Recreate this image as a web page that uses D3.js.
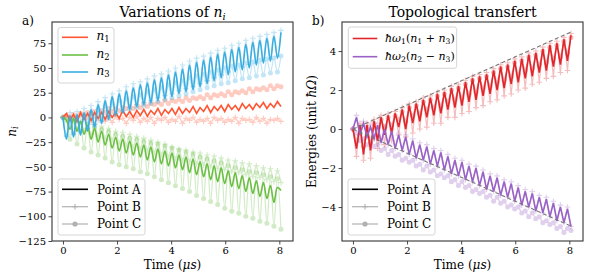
<!DOCTYPE html>
<html><head><meta charset="utf-8">
<script src="https://cdn.jsdelivr.net/npm/d3@7"></script>
<style>body{margin:0;background:#fff} text{font-family:"DejaVu Serif",serif;fill:#000}</style>
</head><body><svg id="c" width="589" height="278"></svg>
<script>
// ---------------- DATA ----------------
const time = [0,0.13,0.26,0.39,0.52,0.65,0.78,0.91,1.04,1.17,1.3,1.43,1.56,1.69,1.82,1.95,2.08,2.21,2.34,2.47,2.6,2.73,2.86,2.99,3.12,3.25,3.38,3.51,3.64,3.77,3.9,4.03,4.16,4.29,4.42,4.55,4.68,4.81,4.94,5.07,5.2,5.33,5.46,5.59,5.72,5.85,5.98,6.11,6.24,6.37,6.5,6.63,6.76,6.89,7.02,7.15,7.28,7.41,7.54,7.67,7.8,7.93,8.06];

// panel a) populations
const n1A = [0,4,-3,3,-4,5,-2,4,-3,5,-1,5,-2,6,0,5,-1,7,1,6,0,7,2,8,1,7,3,9,2,8,4,9,3,10,4,9,5,11,4,10,6,12,5,11,7,12,6,13,8,12,7,14,9,13,8,14,10,15,9,14,10,16,11];
const n1B = [0,2,-3,1,-4,2,-2,0,-5,1,-3,2,-4,0,-5,1,-2,-1,-6,0,-3,1,-5,-1,-4,0,-6,-1,-3,0,-5,-2,-4,1,-6,-1,-3,0,-5,-2,-4,-1,-6,0,-3,-1,-5,-2,-4,0,-6,-1,-3,-2,-5,0,-4,-1,-6,-2,-3,-1,-4];
const n1C = [0,2,-1,3,1,4,2,5,4,6,4,7,5,9,6,9,7,10,9,11,9,12,10,14,11,14,13,15,13,17,14,17,16,18,16,20,17,20,19,21,19,23,20,23,22,24,22,26,23,26,25,27,25,29,26,29,28,30,28,32,29,32,31];
const n2A = [0,-3,-12,-1,-14,-4,-17,-8,-22,-11,-25,-14,-28,-17,-31,-20,-34,-22,-36,-24,-38,-26,-40,-28,-43,-30,-45,-32,-47,-34,-49,-36,-51,-38,-53,-40,-56,-42,-58,-45,-60,-47,-63,-49,-65,-51,-67,-54,-70,-56,-72,-59,-75,-61,-77,-64,-80,-66,-82,-69,-86,-71,-74];
const n2B = [0,-2,-9,-2,-11,-4,-13,-6,-17,-7,-19,-9,-21,-11,-23,-14,-26,-15,-28,-17,-30,-19,-32,-21,-34,-23,-36,-25,-38,-27,-40,-30,-42,-32,-44,-33,-45,-35,-47,-36,-48,-38,-50,-39,-52,-41,-53,-43,-55,-44,-56,-46,-58,-47,-60,-49,-61,-51,-63,-52,-65,-54,-66];
const n2C = [0,-3,-22,-4,-27,-6,-31,-7,-35,-10,-38,-12,-41,-14,-45,-17,-48,-19,-50,-21,-52,-22,-55,-24,-57,-26,-60,-27,-63,-29,-66,-31,-69,-33,-72,-35,-75,-37,-79,-40,-82,-42,-85,-44,-88,-46,-92,-49,-95,-51,-97,-53,-100,-55,-102,-56,-105,-58,-107,-60,-110,-62,-113];
const n3A = [0,-22,2,-20,3,-18,5,-14,8,-10,13,-6,17,-2,21,2,24,5,27,8,30,11,33,13,35,15,38,17,40,19,43,21,46,24,49,26,53,28,56,31,58,34,61,37,64,40,66,43,69,46,71,48,74,50,76,53,78,55,80,57,82,60,86];
const n3B = [0,-19,5,-17,6,-14,9,-11,12,-7,16,-3,20,1,24,4,27,7,31,10,34,13,36,15,39,17,42,20,44,22,47,24,50,27,53,29,57,31,60,34,62,37,65,40,68,43,70,46,73,49,75,51,78,53,80,55,82,57,84,59,86,62,88];
const n3C = [0,-18,-2,-16,-1,-14,1,-11,4,-8,8,-4,11,-1,14,3,17,6,19,8,21,10,23,12,26,14,28,16,30,18,33,20,35,22,37,24,40,26,42,28,44,30,46,32,48,34,50,35,52,37,53,39,55,40,56,42,58,43,59,45,60,46,62];

// panel b) energies
const e1A = [0,-1.0,0.2,-1.3,0.2,-1.1,0.4,-0.6,0.6,-0.3,0.7,-0.2,0.8,0.1,1.0,0.0,1.2,0.3,1.3,0.4,1.5,0.6,1.6,0.7,1.8,0.8,1.9,1.0,2.1,1.1,2.2,1.2,2.4,1.4,2.6,1.5,2.7,1.7,2.8,1.8,3.0,2.0,3.2,2.1,3.3,2.3,3.5,2.4,3.6,2.6,3.8,2.7,3.9,2.9,4.1,3.0,4.3,3.2,4.4,3.3,4.6,3.5,4.8];
const e1B = [0,-1.4,0.3,-1.6,0.3,-1.5,0.5,-1.0,0.7,-0.8,0.8,-0.6,0.9,-0.3,1.1,-0.4,1.3,-0.2,1.4,0.0,1.6,0.1,1.7,0.3,1.9,0.3,2.0,0.6,2.2,0.6,2.3,0.8,2.5,0.9,2.7,1.1,2.8,1.2,2.9,1.4,3.1,1.5,3.3,1.7,3.4,1.8,3.6,2.0,3.7,2.1,3.9,2.3,4.0,2.4,4.2,2.6,4.4,2.7,4.5,2.9,4.7,3.0,4.9];
const e1C = [0,-0.6,0.1,-0.9,0.1,-0.7,0.3,-0.2,0.5,0.1,0.6,0.2,0.7,0.5,0.9,0.4,1.1,0.7,1.2,0.8,1.4,1.0,1.5,1.1,1.7,1.2,1.8,1.4,2.0,1.5,2.1,1.6,2.3,1.8,2.5,1.9,2.6,2.1,2.7,2.2,2.9,2.4,3.1,2.5,3.2,2.7,3.4,2.8,3.5,3.0,3.7,3.1,3.8,3.3,4.0,3.4,4.2,3.6,4.3,3.7,4.5,3.9,4.7];
const e2A = [0,0.6,-0.3,0.3,-0.4,0.1,-0.5,0.2,-0.7,0.0,-0.8,-0.1,-1.0,-0.3,-1.1,-0.4,-1.3,-0.6,-1.5,-0.8,-1.6,-0.9,-1.8,-1.1,-1.9,-1.2,-2.1,-1.4,-2.3,-1.6,-2.4,-1.7,-2.6,-1.9,-2.7,-2.0,-2.9,-2.2,-3.1,-2.4,-3.2,-2.5,-3.4,-2.7,-3.5,-2.8,-3.7,-3.0,-3.9,-3.2,-4.0,-3.3,-4.2,-3.5,-4.3,-3.6,-4.5,-3.8,-4.7,-4.0,-4.8,-4.1,-5.0];
const e2B = [0,0.7,-0.3,0.4,-0.4,0.2,-0.5,0.3,-0.7,0.1,-0.8,0.0,-1.0,-0.2,-1.1,-0.3,-1.3,-0.5,-1.5,-0.7,-1.6,-0.8,-1.8,-1.0,-1.9,-1.1,-2.1,-1.3,-2.3,-1.5,-2.4,-1.6,-2.6,-1.8,-2.7,-1.9,-2.9,-2.1,-3.1,-2.3,-3.2,-2.4,-3.4,-2.6,-3.5,-2.7,-3.7,-2.9,-3.9,-3.1,-4.0,-3.2,-4.2,-3.4,-4.3,-3.5,-4.5,-3.7,-4.7,-3.9,-4.8,-4.0,-5.0];
const e2C = [0,-0.2,-0.6,-0.5,-0.8,-0.7,-0.9,-0.8,-1.1,-1.0,-1.3,-1.1,-1.4,-1.3,-1.6,-1.5,-1.7,-1.6,-1.9,-1.8,-2.1,-1.9,-2.2,-2.1,-2.4,-2.3,-2.5,-2.4,-2.7,-2.6,-2.9,-2.7,-3.0,-2.9,-3.2,-3.1,-3.3,-3.2,-3.5,-3.4,-3.7,-3.5,-3.8,-3.7,-4.0,-3.9,-4.1,-4.0,-4.3,-4.2,-4.5,-4.3,-4.6,-4.5,-4.8,-4.7,-4.9,-4.8,-5.1,-5.0,-5.3,-5.1,-5.2];
const refT = [0, 8.1];
const refUp = [0, 5.0];
const refDown = [0, -5.0];

const xTicks = [0,2,4,6,8];
const yTicksA = [-125,-100,-75,-50,-25,0,25,50,75];
const yTicksB = [-4,-2,0,2,4];
const pointLabels = ["Point A","Point B","Point C"];

// ---------------- DRAW ----------------
const svg = d3.select("#c");
const C1 = "#ff5533", C2 = "#6cbf45", C3 = "#3aaee0", CR = "#e0262b", CP = "#9a62c6";

function makePanel(id, L, R, T, B, ydom, yt) {
  const x = d3.scaleLinear().domain([-0.405, 8.505]).range([L, R]);
  const y = d3.scaleLinear().domain(ydom).range([B, T]);
  const g = svg.append("g");
  svg.append("clipPath").attr("id", id).append("rect").attr("x", L).attr("y", T).attr("width", R-L).attr("height", B-T);
  const plot = g.append("g").attr("clip-path", `url(#${id})`);
  const ax = g.append("g").attr("transform", `translate(0,${B})`)
    .call(d3.axisBottom(x).tickValues(xTicks).tickSize(3.5).tickPadding(2.5).tickFormat(d3.format("d")));
  const ay = g.append("g").attr("transform", `translate(${L},0)`)
    .call(d3.axisLeft(y).tickValues(yt).tickSize(3.5).tickPadding(2.5).tickFormat(d3.format("d")));
  [ax, ay].forEach(a => {
    a.select(".domain").remove();
    a.selectAll("text").attr("font-size", 10).attr("font-family", "DejaVu Serif");
    a.selectAll("line").attr("stroke", "#333").attr("stroke-width", 0.9);
  });
  return {x, y, g, plot, L, R, T, B};
}

function series(p, ys, color, kind, curve) {
  const data = time.map((t, i) => [t, ys[i]]);
  const line = d3.line().x(d => p.x(d[0])).y(d => p.y(d[1])).curve(curve || d3.curveLinear);
  if (kind === "A") {
    p.plot.append("path").attr("d", line(data)).attr("fill", "none").attr("stroke", color).attr("stroke-width", 1.6);
  } else {
    const gg = p.plot.append("g").attr("opacity", 0.3);
    gg.append("path").attr("d", line(data)).attr("fill", "none").attr("stroke", color).attr("stroke-width", 1.2);
    if (kind === "B") {
      gg.selectAll("path.m").data(data).join("path").attr("class", "m")
        .attr("d", d => `M${p.x(d[0])-2.8},${p.y(d[1])}h5.6M${p.x(d[0])},${p.y(d[1])-2.8}v5.6`)
        .attr("stroke", color).attr("stroke-width", 1.1);
    } else {
      gg.selectAll("circle").data(data).join("circle")
        .attr("cx", d => p.x(d[0])).attr("cy", d => p.y(d[1])).attr("r", 2.5).attr("fill", color);
    }
  }
}

function frame(p) {
  p.g.append("rect").attr("x", p.L).attr("y", p.T).attr("width", p.R-p.L).attr("height", p.B-p.T)
    .attr("fill", "none").attr("stroke", "#333").attr("stroke-width", 1.1);
}

function legendBox(x, y, w, h) {
  svg.append("rect").attr("x", x).attr("y", y).attr("width", w).attr("height", h).attr("rx", 2.5)
    .attr("fill", "#fff").attr("fill-opacity", 0.85).attr("stroke", "#d0d0d0").attr("stroke-width", 0.9);
}

function mathLabel(sel, parts, size) {
  parts.forEach(([t, s]) => {
    const ts = sel.append("tspan").text(t);
    if (s === "i") ts.attr("font-style", "italic");
    if (s === "s") ts.attr("font-size", size*0.7).attr("baseline-shift", "-25%");
    if (s === "si") ts.attr("font-size", size*0.7).attr("baseline-shift", "-25%").attr("font-style", "italic");
  });
}

function pointLegend(ox) {
  legendBox(ox + 58, 179, 87, 56);
  const ys = [189.3, 206.7, 224];
  pointLabels.forEach((lab, i) => {
    const yy = ys[i];
    const gg = svg.append("g").attr("opacity", i === 0 ? 1 : 0.3);
    gg.append("line").attr("x1", ox+62).attr("x2", ox+88).attr("y1", yy).attr("y2", yy)
      .attr("stroke", "#000").attr("stroke-width", i === 0 ? 1.6 : 1.2);
    if (i === 1) gg.append("path").attr("d", `M${ox+72.2},${yy}h5.6M${ox+75},${yy-2.8}v5.6`).attr("stroke", "#000").attr("stroke-width", 1.1);
    if (i === 2) gg.append("circle").attr("cx", ox+75).attr("cy", yy).attr("r", 2.6).attr("fill", "#000");
    svg.append("text").attr("x", ox+97).attr("y", yy+4.3).attr("font-size", 12).text(lab);
  });
}

// ---- panel a ----
const pa = makePanel("clipA", 52, 293, 22, 241, [-125, 96.5], yTicksA);
series(pa, n1B, C1, "B"); series(pa, n1C, C1, "C");
series(pa, n2B, C2, "B", d3.curveCatmullRom); series(pa, n2C, C2, "C", d3.curveCatmullRom);
series(pa, n3B, C3, "B", d3.curveCatmullRom); series(pa, n3C, C3, "C", d3.curveCatmullRom);
series(pa, n1A, C1, "A");
series(pa, n2A, C2, "A", d3.curveCatmullRom);
series(pa, n3A, C3, "A", d3.curveCatmullRom);
frame(pa);

// ---- panel b ----
const pb = makePanel("clipB", 342, 583, 22, 241, [-5.74, 5.49], yTicksB);
series(pb, e1B, CR, "B"); series(pb, e1C, CR, "C");
series(pb, e2B, CP, "B"); series(pb, e2C, CP, "C");
series(pb, e1A, CR, "A");
series(pb, e2A, CP, "A");
[refUp, refDown].forEach(r => {
  pb.plot.append("path").attr("d", d3.line()(refT.map((t, i) => [pb.x(t), pb.y(r[i])])))
    .attr("stroke", "#777").attr("stroke-width", 1.1).attr("stroke-dasharray", "4,2.5").attr("fill", "none");
});
frame(pb);

// ---- legends ----
legendBox(58, 27.5, 56, 55.5);
[[C1, "1", 37.3], [C2, "2", 55], [C3, "3", 72]].forEach(([c, k, yy]) => {
  svg.append("line").attr("x1", 62).attr("x2", 88).attr("y1", yy).attr("y2", yy).attr("stroke", c).attr("stroke-width", 1.6);
  mathLabel(svg.append("text").attr("x", 96.5).attr("y", yy+3).attr("font-size", 12), [["n","i"],[k,"s"]], 12);
});
pointLegend(0);

legendBox(348.3, 27, 108.4, 41.3);
[[CR, 38.5, [["ħω","i"],["1","s"],["(",""],["n","i"],["1","s"],[" + ",""],["n","i"],["3","s"],[")",""]]],
 [CP, 56.7, [["ħω","i"],["2","s"],["(",""],["n","i"],["2","s"],[" − ",""],["n","i"],["3","s"],[")",""]]]].forEach(([c, yy, parts]) => {
  svg.append("line").attr("x1", 352.7).attr("x2", 377.3).attr("y1", yy).attr("y2", yy).attr("stroke", c).attr("stroke-width", 1.6);
  mathLabel(svg.append("text").attr("x", 385).attr("y", yy+3.5).attr("font-size", 11), parts, 11);
});
pointLegend(290);

// ---- titles and labels ----
mathLabel(svg.append("text").attr("x", 172.5).attr("y", 17).attr("text-anchor", "middle").attr("font-size", 14),
  [["Variations of ",""],["n","i"],["i","si"]], 14);
svg.append("text").attr("x", 462.5).attr("y", 17).attr("text-anchor", "middle").attr("font-size", 14).text("Topological transfert");
svg.append("text").attr("x", 22).attr("y", 24.5).attr("font-size", 12).text("a)");
svg.append("text").attr("x", 312).attr("y", 24.5).attr("font-size", 12).text("b)");
[172.5, 462.5].forEach(cx => {
  mathLabel(svg.append("text").attr("x", cx).attr("y", 268.5).attr("text-anchor", "middle").attr("font-size", 12),
    [["Time (",""],["μs","i"],[")",""]], 12);
});
mathLabel(svg.append("text").attr("transform", "translate(16,131.5) rotate(-90)").attr("text-anchor", "middle").attr("font-size", 12),
  [["n","i"],["i","si"]], 12);
mathLabel(svg.append("text").attr("transform", "translate(316,131.5) rotate(-90)").attr("text-anchor", "middle").attr("font-size", 12),
  [["Energies (unit ",""],["ħΩ","i"],[")",""]], 12);
</script></body></html>
